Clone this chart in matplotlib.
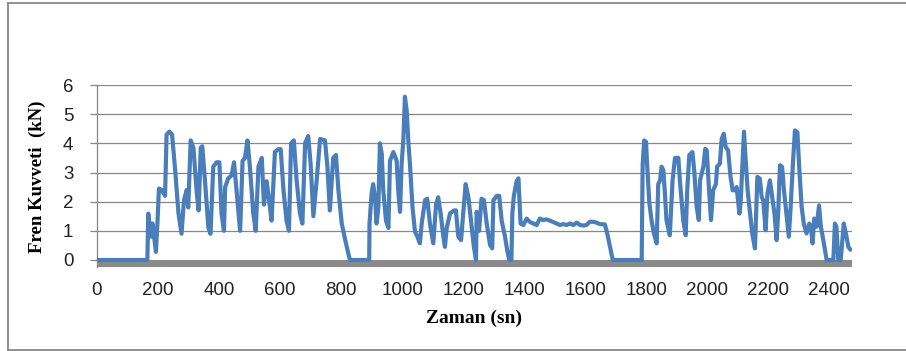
import matplotlib
matplotlib.use('agg')
import matplotlib.pyplot as plt
from matplotlib.lines import Line2D

# brake force trace (time in s, force in kN)
zaman = [0, 165, 168, 177, 182, 193, 198, 203, 212, 223, 228, 237, 246, 256, 267, 277,
         285, 294, 299, 307, 316, 327, 333, 340, 345, 354, 365, 372, 381, 392, 401, 408,
         416, 420, 430, 441, 449, 458, 469, 477, 485, 493, 501, 512, 520, 529, 540, 547,
         556, 564, 572, 583, 594, 602, 611, 621, 629, 636, 645, 654, 665, 673, 682, 692,
         700, 709, 720, 731, 747, 755, 763, 774, 783, 791, 802, 813, 824, 829,
         892, 893, 900, 905, 911, 916, 922, 927, 933, 938, 947, 955, 960, 971, 982, 987,
         993, 998, 1004, 1009, 1015, 1020, 1026, 1034, 1042, 1050, 1058, 1064, 1075, 1082,
         1091, 1102, 1111, 1118, 1126, 1135, 1140, 1146, 1157, 1170, 1176, 1184, 1193, 1200,
         1208, 1217, 1228, 1235, 1242, 1244, 1252, 1260, 1268, 1277, 1288, 1295, 1299, 1310,
         1318, 1326, 1337, 1344, 1351, 1358, 1361, 1366, 1375, 1381, 1388, 1397, 1408, 1419,
         1430, 1441, 1451, 1462, 1473, 1484, 1495, 1506, 1517, 1528, 1539, 1550, 1561, 1572,
         1583, 1594, 1604, 1615, 1626, 1637, 1648, 1664, 1672, 1681, 1690,
         1785, 1786, 1788, 1793, 1799, 1803, 1810, 1817, 1825, 1834, 1839, 1845, 1850, 1856,
         1861, 1866, 1877, 1886, 1894, 1905, 1910, 1921, 1929, 1934, 1941, 1951, 1957, 1965,
         1972, 1976, 1987, 1993, 1998, 2005, 2012, 2019, 2028, 2032, 2041, 2047, 2054, 2060,
         2068, 2076, 2083, 2090, 2096, 2105, 2109, 2115, 2120, 2125, 2132, 2140, 2147, 2156,
         2164, 2172, 2178, 2183, 2191, 2197, 2205, 2214, 2220, 2227, 2232, 2238, 2245, 2251,
         2260, 2267, 2273, 2281, 2287, 2295, 2301, 2309, 2316, 2325, 2334, 2339, 2345, 2350,
         2358, 2366, 2372, 2380, 2391, 2413, 2418, 2423, 2429, 2437, 2447, 2456, 2462, 2469]
kuvvet = [0, 0, 1.59, 0.80, 1.25, 0.28, 1.25, 2.45, 2.4, 2.2, 4.3, 4.4, 4.3, 3.1, 1.6, 0.9,
          2.05, 2.4, 1.8, 4.1, 3.85, 2.3, 1.7, 3.85, 3.9, 2.7, 1.1, 0.9, 3.2, 3.35, 3.35, 1.6,
          1.0, 2.5, 2.8, 2.9, 3.35, 2.3, 1.0, 3.4, 3.5, 4.1, 3.2, 1.6, 1.0, 3.2, 3.5, 1.9,
          2.7, 2.05, 1.35, 3.7, 3.8, 3.8, 2.4, 1.35, 1.0, 4.0, 4.1, 2.75, 1.6, 1.25, 4.0, 4.25,
          3.3, 1.5, 2.75, 4.15, 4.1, 3.2, 1.7, 3.5, 3.6, 2.4, 1.25, 0.7, 0.2, 0,
          0, 1.25, 2.3, 2.6, 2.15, 1.25, 1.8, 4.0, 3.65, 2.4, 1.35, 1.1, 3.4, 3.7, 3.4, 2.4,
          1.65, 3.25, 4.15, 5.6, 5.1, 4.1, 3.2, 1.8, 0.97, 0.8, 0.57, 1.25, 2.05, 2.1,
          1.25, 0.57, 1.9, 2.15, 1.6, 0.8, 0.45, 1.1, 1.6, 1.7, 1.7, 0.8, 0.68, 1.6,
          2.6, 2.15, 1.1, 0.45, 0, 1.65, 1.0, 2.1, 2.05, 1.25, 0.51, 0.4, 2.05, 2.2,
          2.2, 1.35, 0.8, 0.34, 0, 0, 1.6, 2.2, 2.7, 2.8, 1.25, 1.2, 1.42, 1.3,
          1.25, 1.2, 1.42, 1.37, 1.39, 1.35, 1.3, 1.25, 1.2, 1.23, 1.2, 1.25, 1.2, 1.28,
          1.2, 1.18, 1.2, 1.31, 1.31, 1.28, 1.23, 1.22, 0.91, 0.45, 0,
          0, 1.25, 3.25, 4.1, 4.05, 3.2, 1.95, 1.37, 0.91, 0.57, 2.6, 2.73, 3.2, 3.07,
          2.28, 1.37, 0.85, 2.73, 3.5, 3.5, 2.73, 1.37, 0.85, 2.39, 3.6, 3.7, 3.07, 1.82,
          1.37, 2.73, 3.2, 3.81, 3.76, 2.5, 1.37, 2.39, 2.6, 3.2, 3.3, 4.15, 4.33, 3.87,
          3.76, 2.85, 2.39, 2.39, 2.5, 1.59, 1.94, 3.3, 4.4, 3.53, 2.39, 1.59, 0.91, 0.4,
          2.85, 2.79, 2.16, 2.05, 1.02, 2.28, 2.73, 2.05, 1.59, 0.68, 1.59, 3.25, 3.19, 2.39,
          1.48, 0.8, 1.82, 3.42, 4.44, 4.38, 3.19, 1.82, 1.25, 0.91, 1.25, 1.14, 0.57, 1.42,
          1.14, 1.87, 1.14, 0.68, 0, 0, 1.25, 1.14, 0, 0, 1.25, 0.8, 0.45, 0.35]

x_ticks = list(range(0, 2401, 200))
y_ticks = [0, 1, 2, 3, 4, 5, 6]

W, H = 906, 351
fig = plt.figure(figsize=(W / 100, H / 100), dpi=100)
ax = fig.add_axes([97 / W, 1 - 267 / H, (852 - 97) / W, (267 - 85) / H])

grid_col = '#878787'
band_bottom = -0.24

# horizontal gridlines and the thick grey floor under zero
for y in y_ticks[1:]:
    ax.axhline(y, color=grid_col, lw=0.9, zorder=1)
ax.axhspan(band_bottom, 0, color='#8a8a8a', lw=0, zorder=1)

ax.plot(zaman, kuvvet, color='#4a7ebb', lw=3.0, solid_joinstyle='round',
        solid_capstyle='round', zorder=3)

ax.set_xlim(0, 2474)
ax.set_ylim(band_bottom, 6)
ax.set_xticks(x_ticks)
ax.set_yticks(y_ticks)

for s in ['top', 'right', 'bottom']:
    ax.spines[s].set_visible(False)
ax.spines['left'].set_color(grid_col)
ax.spines['left'].set_linewidth(0.9)
ax.spines['left'].set_bounds(band_bottom, 6)

ax.tick_params(axis='y', length=5, width=0.9, color=grid_col, pad=12,
               labelsize=13.5, labelcolor='#222222')
ax.tick_params(axis='x', length=0, pad=11, labelsize=13.5, labelcolor='#222222')
for lab in ax.get_xticklabels() + ax.get_yticklabels():
    lab.set_fontfamily('Liberation Sans')

fig.text(474 / W, 1 - 318 / H, 'Zaman (sn)', ha='center', va='center',
         fontsize=14, fontweight='bold', family='Liberation Serif')
fig.text(37 / W, 1 - 177 / H, 'Fren Kuvveti  (kN)', ha='center', va='center',
         rotation=90, fontsize=13.5, fontweight='bold', family='Liberation Serif')

# outer chart border (right side is cut off in the original)
bx0, by0, by1 = 8 / W, 1 - 350 / H, 1 - 3 / H
for xs, ys in [([bx0, bx0], [by0, by1]), ([bx0, 1], [by1, by1]), ([bx0, 1], [by0, by0])]:
    fig.add_artist(Line2D(xs, ys, color='#888888', lw=1.3))

fig.savefig('out.png', dpi=100)
plt.close()
